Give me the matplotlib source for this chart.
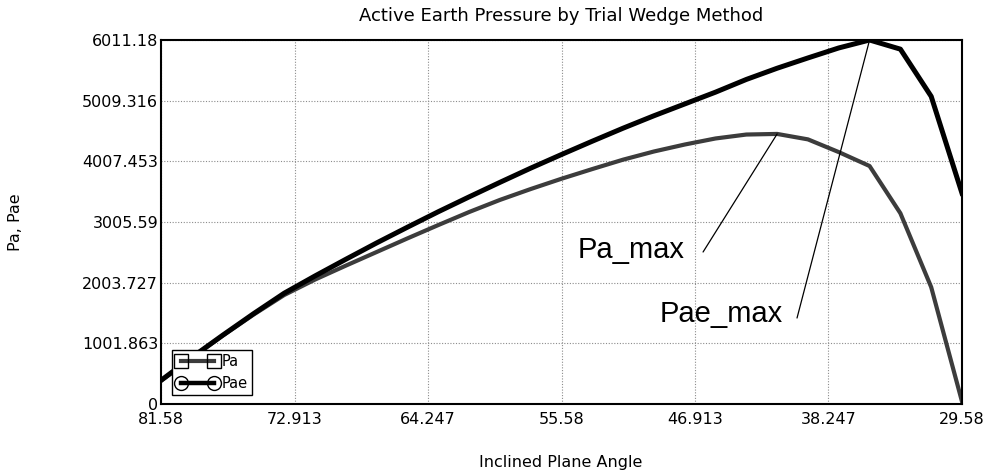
import matplotlib
matplotlib.use("Agg")
import matplotlib.pyplot as plt
from matplotlib.lines import Line2D

# inclined plane angle (deg), sampled every 2 deg
angle = [81.58, 79.58, 77.58, 75.58, 73.58, 71.58, 69.58, 67.58, 65.58,
         63.58, 61.58, 59.58, 57.58, 55.58, 53.58, 51.58, 49.58, 47.58,
         45.58, 43.58, 41.58, 39.58, 37.58, 35.58, 33.58, 31.58, 29.58]

pa = [385, 762, 1128, 1475, 1800, 2055, 2285, 2510, 2735,
      2955, 3170, 3370, 3550, 3720, 3880, 4035, 4170, 4285,
      4385, 4450, 4460, 4370, 4160, 3930, 3150, 1930, 40]

pae = [390, 770, 1135, 1490, 1830, 2115, 2390, 2660, 2920,
       3175, 3420, 3660, 3895, 4120, 4340, 4555, 4760, 4955,
       5150, 5360, 5545, 5715, 5880, 6011.18, 5860, 5080, 3480]

x_ticks = [81.58, 72.913, 64.247, 55.58, 46.913, 38.247, 29.58]
x_labels = ["81.58", "72.913", "64.247", "55.58", "46.913", "38.247", "29.58"]
y_ticks = [0, 1001.863, 2003.727, 3005.59, 4007.453, 5009.316, 6011.18]
y_labels = ["0", "1001.863", "2003.727", "3005.59", "4007.453", "5009.316", "6011.18"]

pa_color = "#3c3c3c"

fig = plt.figure(figsize=(9.91, 4.74), dpi=100)
ax = fig.add_axes([161 / 991, 70 / 474, 801 / 991, 364 / 474])

ax.plot(angle, pa, color=pa_color, lw=3.0, solid_joinstyle="round")
ax.plot(angle, pae, color="black", lw=3.6, solid_joinstyle="round")

ax.set_xlim(81.58, 29.58)
ax.set_ylim(0, 6011.18)
ax.set_xticks(x_ticks)
ax.set_xticklabels(x_labels)
ax.set_yticks(y_ticks)
ax.set_yticklabels(y_labels)
ax.tick_params(axis="x", length=0, pad=6, labelsize=11.5)
ax.tick_params(axis="y", length=0, pad=2, labelsize=11.5)
ax.grid(True, color="#8c8c8c", lw=0.8, linestyle=(0, (1, 1.5)))
for s in ax.spines.values():
    s.set_linewidth(1.5)
    s.set_color("black")

# peak annotations
i_pa = pa.index(max(pa))
i_pae = pae.index(max(pae))
ax.text(54.51, 2411, "Pa_max", family="Liberation Sans", fontsize=21,
        ha="left", va="baseline")
ax.annotate("", xy=(angle[i_pa], pa[i_pa]), xytext=(46.39, 2510),
            arrowprops=dict(arrowstyle="-", lw=0.9, color="black",
                            shrinkA=0, shrinkB=0))
ax.text(49.19, 1354, "Pae_max", family="Liberation Sans", fontsize=21,
        ha="left", va="baseline")
ax.annotate("", xy=(angle[i_pae], pae[i_pae]), xytext=(40.29, 1420),
            arrowprops=dict(arrowstyle="-", lw=0.9, color="black",
                            shrinkA=0, shrinkB=0))

handles = [
    Line2D([], [], color=pa_color, lw=3.0, marker="s", ms=10, mfc="none",
           mec="black", mew=1.0),
    Line2D([], [], color="black", lw=3.2, marker="o", ms=10, mfc="none",
           mec="black", mew=1.0),
]
leg = ax.legend(handles, ["Pa", "Pae"], loc="lower left",
                bbox_to_anchor=(0.0137, 0.0247), borderaxespad=0,
                fancybox=False, edgecolor="black", framealpha=1,
                fontsize=10.5, handlelength=2.9, handletextpad=0.2,
                numpoints=2, borderpad=0.3, labelspacing=0.45)
leg.get_frame().set_linewidth(1.0)

fig.text(0.566, 1 - 16 / 474, "Active Earth Pressure by Trial Wedge Method",
         ha="center", va="center", fontsize=13)
fig.text(0.566, 1 - 463 / 474, "Inclined Plane Angle",
         ha="center", va="center", fontsize=11.5)
fig.text(16 / 991, 1 - 222 / 474, "Pa, Pae", rotation=90,
         ha="center", va="center", fontsize=11.5)

fig.savefig("out.png", dpi=100)
